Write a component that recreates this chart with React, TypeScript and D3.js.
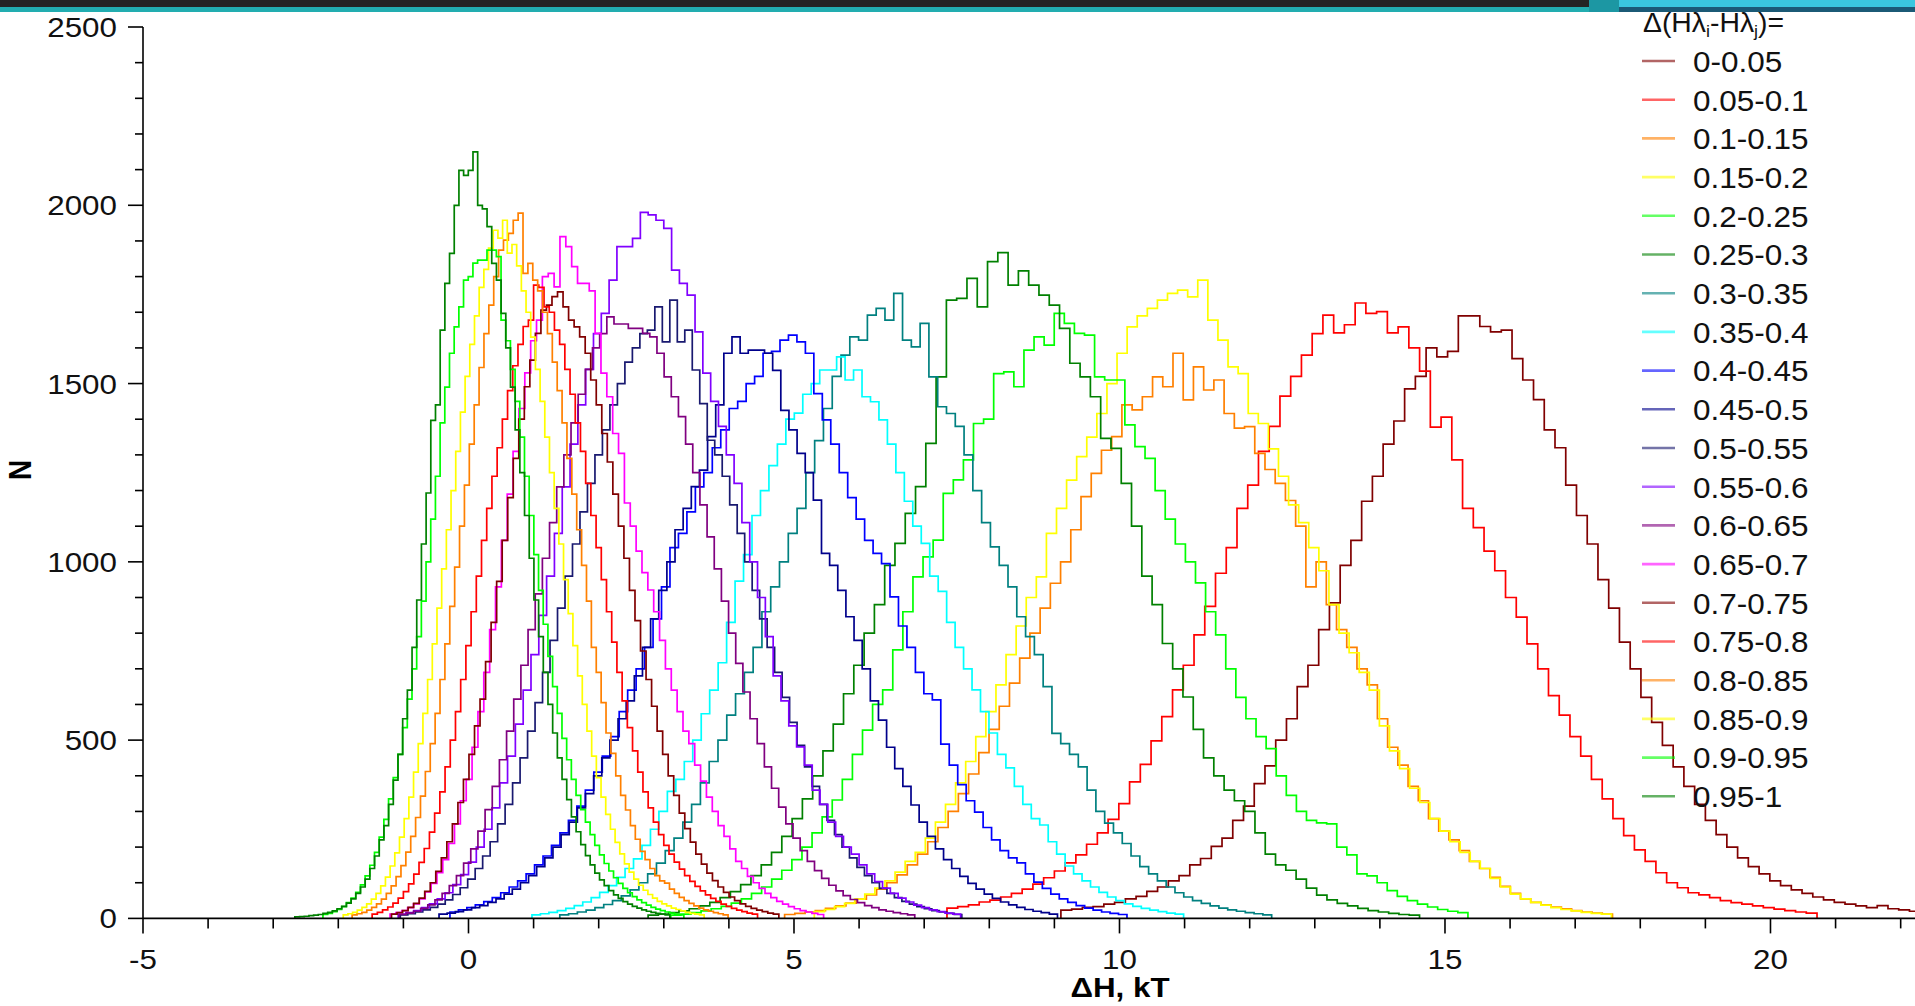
import React from "react";
import * as d3 from "d3";

// legend categories, one per histogram
const labels = [
  "0-0.05", "0.05-0.1", "0.1-0.15", "0.15-0.2", "0.2-0.25",
  "0.25-0.3", "0.3-0.35", "0.35-0.4", "0.4-0.45", "0.45-0.5",
  "0.5-0.55", "0.55-0.6", "0.6-0.65", "0.65-0.7", "0.7-0.75",
  "0.75-0.8", "0.8-0.85", "0.85-0.9", "0.9-0.95", "0.95-1",
];

const colors = [
  "#800000", "#ff0000", "#ff8000", "#ffff00", "#00ff00",
  "#008000", "#008080", "#00ffff", "#0000ff", "#00008b",
  "#191970", "#8000ff", "#800080", "#ff00ff", "#800000",
  "#ff0000", "#ff8000", "#ffff00", "#00ff00", "#008000",
];

// left edge of the first bin and bin width of every histogram (kT)
const binStarts = [
  9.1, 7.35, 4.856, 5.3125, 3.1075, 2.759, 1.4025, 0.975, -0.285, -0.4525,
  -1.0475, -1.08, -1.065, -1.205, -1.1825, -1.48, -1.7875, -1.924, -2.236, -2.667,
];
const binWidths = [
  0.165, 0.165, 0.157, 0.155, 0.155, 0.158, 0.135, 0.13, 0.13, 0.125,
  0.115, 0.12, 0.11, 0.09, 0.085, 0.08, 0.075, 0.072, 0.072, 0.072,
];

// counts per bin
const d01 = [23,26,31,33,40,45,55,62,76,88,105,120,150,168,202,225,275,315,378,428,500,560,650,710,810,885,990,1060,1170,1240,1330,1395,1485,1520,1600,1575,1590,1690,1690,1660,1645,1650,1570,1510,1455,1370,1320,1215,1130,1050,950,870,775,700,620,550,485,425,370,320,275,235,200,170,145,125,105,92,80,70,60,52,45,40,35,30,36,27,24,20];
const d02 = [29,33,38,46,51,60,70,82,96,114,133,156,178,208,240,278,322,383,432,498,566,641,710,795,875,968,1040,1150,1215,1310,1380,1465,1520,1580,1640,1692,1642,1665,1726,1697,1702,1642,1659,1600,1535,1378,1406,1286,1150,1096,1030,975,900,845,770,700,625,570,510,455,390,335,280,232,192,160,128,100,86,72,66,58,50,44,40,35,30,26,22,18,15];
const d03 = [11,14,18,22,28,35,43,54,66,82,100,122,150,180,215,255,300,350,405,465,530,595,660,730,800,870,940,1000,1090,1183,1248,1313,1351,1440,1426,1463,1519,1491,1585,1454,1547,1482,1510,1416,1375,1379,1304,1259,1220,1172,1100,930,1000,880,810,760,700,655,560,480,430,370,330,280,245,220,190,160,140,115,90,70,55,45,38,32,27,22,18,15,12];
const d04 = [19,25,33,42,54,68,85,105,130,160,185,225,270,320,380,440,510,580,655,740,820,900,958,1080,1150,1229,1295,1350,1416,1500,1585,1659,1690,1711,1734,1753,1762,1743,1790,1678,1622,1547,1528,1416,1388,1317,1240,1160,1110,1040,975,880,800,745,690,640,540,470,420,365,325,280,245,215,185,160,140,112,88,68,55,45,37,30,25,21,17,14,12];
const d05 = [9,12,16,21,27,34,43,55,70,88,110,135,165,200,240,285,332,390,460,528,600,641,753,860,958,1014,1061,1192,1230,1286,1388,1400,1528,1533,1491,1594,1631,1608,1697,1669,1641,1636,1519,1510,1510,1384,1323,1290,1200,1120,1050,1000,941,860,795,700,620,560,510,476,400,345,300,275,268,265,200,178,125,119,100,78,62,50,40,32,25,20,16];
const d06 = [9,12,16,21,27,35,45,58,75,95,120,150,185,230,280,335,400,470,545,630,710,800,880,990,1052,1136,1211,1332,1519,1734,1739,1795,1715,1842,1867,1776,1816,1776,1748,1720,1655,1557,1519,1463,1346,1318,1220,1100,960,880,771,700,621,530,450,400,360,330,300,240,180,150,135,110,85,65,52,42,35,28,22,18,14,11,9];
const d07 = [10,13,18,23,30,39,50,63,80,100,125,155,190,225,270,320,380,440,500,570,630,690,760,860,930,1000,1080,1150,1250,1340,1430,1520,1580,1631,1622,1692,1711,1678,1753,1622,1603,1669,1519,1435,1416,1380,1300,1200,1110,1042,990,930,846,790,740,650,519,490,460,425,360,300,267,240,210,175,145,125,105,88,72,60,50,42,35,29,24,20,16,13,10];
const d08 = [10,13,17,22,28,36,46,58,73,92,115,140,167,205,250,300,356,390,440,500,574,640,717,830,946,1020,1130,1200,1270,1330,1400,1417,1470,1500,1538,1538,1575,1510,1538,1463,1449,1398,1330,1250,1170,1100,1052,960,917,830,760,700,641,580,520,460,422,370,320,280,262,215,180,147,125,105,88,73,60,50,41,34,28,23,19,15,12];
const d09 = [18,24,30,38,47,58,72,88,105,125,150,175,205,240,275,315,360,410,455,510,580,640,700,760,840,930,1040,1080,1140,1210,1250,1320,1370,1430,1450,1500,1520,1585,1590,1622,1636,1617,1585,1472,1398,1330,1250,1180,1120,1060,1024,995,902,820,760,690,630,613,489,430,375,330,298,255,220,190,170,156,125,102,84,68,55,45,36,29,23,18,14,11];
const d10 = [12,15,19,24,30,36,45,55,68,82,100,120,145,170,200,235,270,310,350,400,450,500,560,610,680,760,840,920,1000,1090,1150,1211,1257,1351,1440,1585,1631,1585,1594,1594,1585,1537,1425,1370,1304,1250,1173,1024,990,920,846,780,700,610,556,480,420,370,318,270,230,195,165,140,118,98,82,68,56,46,38,31,25,20,16,12];
const d11 = [10,13,18,24,31,40,52,67,86,110,140,175,215,265,320,380,450,525,605,690,780,870,960,1050,1140,1220,1300,1370,1440,1500,1560,1600,1640,1650,1715,1617,1734,1617,1650,1538,1444,1341,1300,1240,1160,1080,1000,920,840,760,690,620,550,485,425,370,320,275,235,200,170,143,120,100,84,70,58,48,40,33,27,22,18,14,11];
const d12 = [12,16,22,30,41,55,72,95,123,158,200,250,310,380,455,545,640,740,850,960,1080,1210,1330,1440,1540,1640,1697,1790,1884,1884,1907,1980,1973,1958,1935,1818,1781,1748,1645,1529,1450,1380,1300,1220,1110,1000,900,790,680,610,540,481,430,360,320,270,230,200,180,150,125,103,85,70,57,46,37,30,24,19,15,12];
const d13 = [11,15,20,28,38,52,70,92,120,155,195,245,305,370,445,525,615,710,810,910,1010,1110,1210,1300,1390,1470,1540,1600,1640,1687,1667,1667,1655,1655,1641,1631,1585,1519,1463,1407,1330,1250,1160,1070,980,890,800,715,635,560,490,425,365,312,265,225,190,160,134,112,93,77,64,53,44,36,30,24,20,16,13,10];
const d14 = [12,16,22,30,41,55,74,98,128,165,210,265,330,390,480,580,690,810,930,1060,1190,1310,1430,1530,1620,1678,1800,1809,1771,1912,1884,1828,1781,1781,1760,1641,1529,1463,1360,1304,1165,1100,1030,970,921,860,780,700,640,580,525,490,430,385,340,300,260,230,195,160,140,118,100,84,70,58,48,40,33,27,22,18,14,11];
const d15 = [12,16,22,31,42,57,76,100,132,170,215,265,325,390,460,540,615,720,830,945,1060,1180,1290,1400,1491,1566,1641,1706,1720,1744,1757,1715,1678,1659,1631,1585,1510,1440,1360,1280,1190,1100,1010,920,835,750,670,595,525,460,400,345,295,252,214,180,152,127,106,88,73,60,50,41,34,28,23,19,15,12];
const d16 = [12,17,24,32,43,57,75,97,124,157,196,242,295,355,425,500,580,670,765,860,960,1060,1150,1240,1320,1400,1480,1550,1610,1660,1678,1776,1770,1715,1700,1650,1610,1540,1470,1390,1310,1220,1130,1040,950,860,775,690,610,535,470,410,355,310,270,235,205,180,158,138,120,104,90,77,66,56,48,40,34,28,23,19,15,12];
const d17 = [10,13,17,23,31,41,54,70,91,117,148,186,230,283,343,412,490,575,670,770,875,985,1100,1215,1330,1440,1545,1640,1720,1800,1874,1902,1921,1958,1978,1809,1837,1790,1760,1700,1640,1560,1480,1390,1290,1190,1090,990,890,760,690,605,520,463,400,345,304,260,222,188,165,140,120,105,99,82,70,59,50,42,35,29,24,20,16,13,10];
const d18 = [10,13,17,23,31,41,54,70,91,116,147,184,228,280,340,410,490,575,670,770,870,980,1090,1200,1310,1420,1520,1610,1690,1770,1820,1880,1930,1908,1958,1866,1890,1830,1760,1700,1630,1540,1450,1350,1250,1150,1050,950,855,765,680,600,525,455,395,340,292,250,213,181,153,130,110,93,79,67,57,48,41,35,29,25,21,17,14,12,10];
const d19 = [11,14,19,25,33,44,57,73,94,119,149,185,228,278,335,395,460,535,615,700,790,890,1000,1120,1240,1390,1490,1585,1659,1715,1790,1800,1838,1846,1846,1874,1874,1856,1678,1620,1540,1450,1350,1240,1130,1020,920,825,735,650,575,505,445,390,345,305,270,235,205,178,154,133,114,98,84,72,61,52,44,37,31,26,22,18,15,12,10];
const d20 = [4,5,6,8,9,11,14,17,21,27,34,43,55,70,88,110,140,175,220,260,320,388,460,560,640,760,893,1050,1193,1397,1440,1650,1781,1865,2000,2098,2084,2098,2150,2000,1990,1940,1837,1790,1697,1600,1490,1370,1250,1130,1010,893,790,690,600,520,450,390,333,285,243,207,176,150,127,108,92,78,66,56,47,40,34,29,24,20,17,14,12,10];

const counts = [d01, d02, d03, d04, d05, d06, d07, d08, d09, d10, d11, d12, d13, d14, d15, d16, d17, d18, d19, d20];

const xTickLabels = [-5, 0, 5, 10, 15, 20];
const yTickLabels = [0, 500, 1000, 1500, 2000, 2500];

const width = 1915;
const height = 1006;
const font = "'Liberation Sans', Arial, sans-serif";

const x = d3.scaleLinear().domain([-5, 22.22]).range([143, 1915]);
const y = d3.scaleLinear().domain([0, 2500]).range([918.4, 27]);

export default function App() {
  const line = d3
    .line<[number, number]>()
    .x((d) => x(d[0]))
    .y((d) => y(d[1]))
    .curve(d3.curveStepAfter);

  const paths = counts.map((c, s) => {
    const st = binStarts[s];
    const w = binWidths[s];
    const pts: [number, number][] = [[st, 0]];
    c.forEach((v, i) => pts.push([st + i * w, v]));
    const end = st + c.length * w;
    pts.push([end, c[c.length - 1]]);
    pts.push([end, 0]);
    return line(pts) as string;
  });

  const xMinor = d3.range(-5, 23, 1);
  const yMinor = d3.range(0, 2501, 100);

  return (
    <svg
      width={width}
      height={height}
      style={{ position: "absolute", left: 0, top: 0, display: "block", background: "#fff" }}
      fontFamily={font}
    >
      <rect x={0} y={0} width={width} height={height} fill="#fff" />

      {/* slide header strip */}
      <rect x={0} y={0} width={1589} height={7} fill="#242424" />
      <rect x={0} y={7} width={1619} height={5} fill="#22adb0" />
      <rect x={1589} y={0} width={30} height={12} fill="#1c97a3" />
      <rect x={1619} y={0} width={296} height={7} fill="#3ac7df" />
      <rect x={1619} y={7} width={296} height={5} fill="#1b5a76" />

      {/* histograms */}
      <g fill="none" strokeWidth={1.7} strokeLinejoin="miter">
        {paths.map((p, i) => (
          <path key={i} d={p} stroke={colors[i]} />
        ))}
      </g>

      {/* y axis */}
      <g stroke="#000" strokeWidth={1.6}>
        <line x1={143} x2={143} y1={y(2500)} y2={y(0)} />
        {yMinor.map((v) => (
          <line key={v} x1={v % 500 === 0 ? 128 : 135} x2={143} y1={y(v)} y2={y(v)} />
        ))}
      </g>
      {yTickLabels.map((v) => (
        <text
          key={v}
          transform={`translate(117,${y(v) + 10}) scale(1.12,1)`}
          textAnchor="end"
          fontSize={28}
          fill="#111"
        >
          {v}
        </text>
      ))}

      {/* x axis */}
      <g stroke="#000" strokeWidth={1.6}>
        <line x1={143} x2={1915} y1={y(0)} y2={y(0)} />
        {xMinor.map((v) => (
          <line key={v} x1={x(v)} x2={x(v)} y1={y(0)} y2={y(0) + (v % 5 === 0 ? 15 : 10)} />
        ))}
      </g>
      {xTickLabels.map((v) => (
        <text
          key={v}
          transform={`translate(${x(v)},969) scale(1.12,1)`}
          textAnchor="middle"
          fontSize={28}
          fill="#111"
        >
          {v}
        </text>
      ))}

      <text transform="translate(1120,997) scale(1.12,1)" textAnchor="middle" fontSize={28} fontWeight="bold">
        ΔH, kT
      </text>
      <text transform="translate(31,470) scale(1.12,1) rotate(-90)" textAnchor="middle" fontSize={28} fontWeight="bold">
        N
      </text>

      {/* legend */}
      <text transform="translate(1643,32) scale(1.05,1)" fontSize={27} fill="#111">
        Δ(Hλ<tspan fontSize={17} dy={5}>i</tspan>
        <tspan dy={-5}>-Hλ</tspan>
        <tspan fontSize={17} dy={5}>j</tspan>
        <tspan dy={-5}>)=</tspan>
      </text>
      {labels.map((lab, i) => {
        const cy = 61 + i * 38.7;
        return (
          <g key={lab}>
            <line x1={1642} x2={1675} y1={cy} y2={cy} stroke={colors[i]} strokeWidth={2.6} opacity={0.6} />
            <text transform={`translate(1693,${cy + 10.8}) scale(1.05,1)`} fontSize={30} fill="#111">
              {lab}
            </text>
          </g>
        );
      })}
    </svg>
  );
}
